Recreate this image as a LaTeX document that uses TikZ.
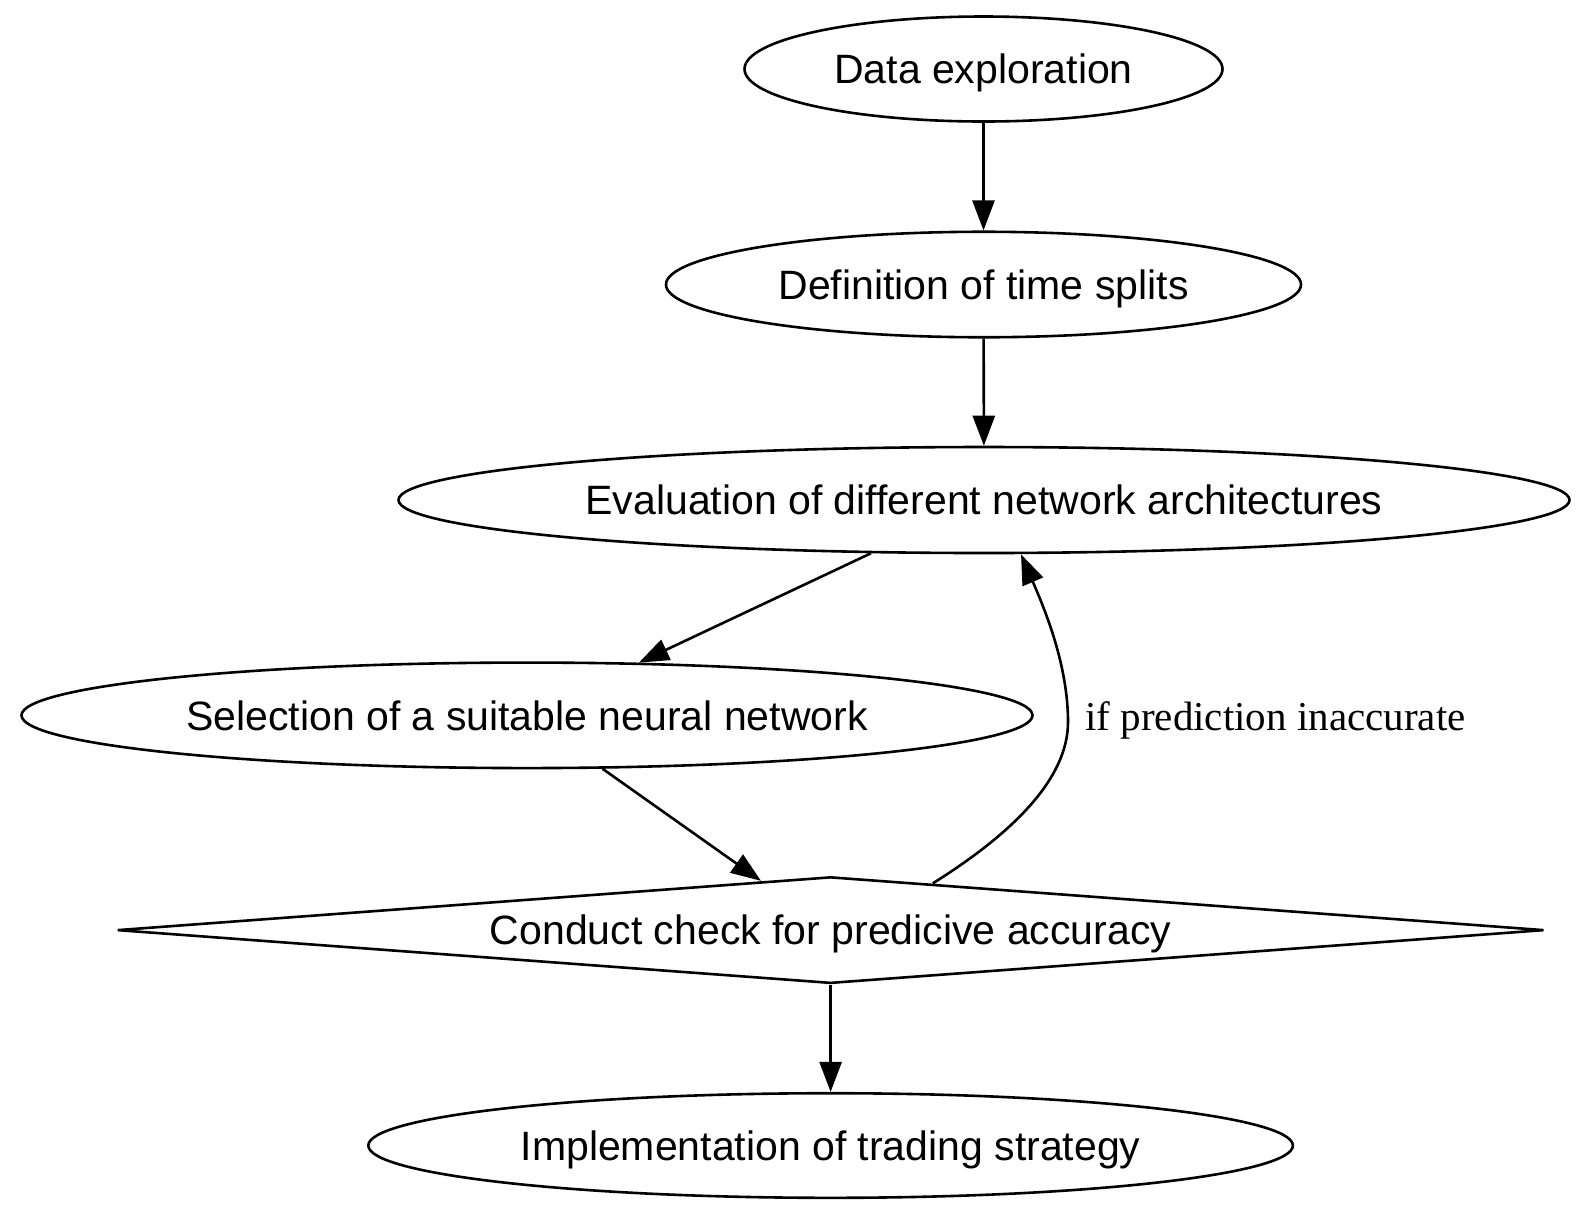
\documentclass[tikz,border=0pt]{standalone}
\usepackage{fontspec}
\setmainfont{Liberation Sans}
\newfontfamily\labelserif{Liberation Serif}
\usetikzlibrary{shapes.geometric,arrows.meta,calc}
\begin{document}
\begin{tikzpicture}[x=0.5pt,y=-0.5pt,
  every node/.style={font=\fontsize{20.5pt}{24pt}\selectfont, inner sep=0pt, text height=18pt, text depth=3.3pt},
  ell/.style={draw, ellipse, line width=1.3pt},
  dia/.style={draw, diamond, shape aspect=13.4, line width=1.3pt},
  conn/.style={line width=1.3pt, -{Triangle[length=15pt,width=11pt]}}]
\useasboundingbox (0,0) rectangle (1593,1223);
\node[ell, minimum width=239pt, minimum height=52.5pt] (explore) at (983.5,69) {Data exploration};
\node[ell, minimum width=317.5pt, minimum height=52.75pt] (splits) at (983.5,284.5) {Definition of time splits};
\node[ell, minimum width=585.5pt, minimum height=53pt] (eval) at (984,500) {Evaluation of different network architectures};
\node[ell, minimum width=505.5pt, minimum height=52.75pt] (select) at (527,715.3) {Selection of a suitable neural network};
\node[dia, minimum width=713.5pt, minimum height=53.3pt] (check) at (830.6,930.1) {Conduct check for predicive accuracy};
\node[ell, minimum width=462.3pt, minimum height=52.3pt] (impl) at (830.6,1145.5) {Implementation of trading strategy};
\draw[conn] (explore) -- (splits);
\draw[conn] (splits) -- (eval);
\draw[conn] (eval) -- (select);
\draw[conn] (select) -- (check);
\draw[conn] (check) -- (impl);
\coordinate (loopstart) at ($(check.north)!0.143!(check.east)$);
\coordinate (loopend) at ($(eval.south)+(37,0)$);
\draw[conn] (loopstart) .. controls (1010,835) and (1068,780) .. (1068,722)
  .. controls (1068,665) and (1045,610) .. (loopend);
\node[anchor=west, font=\labelserif\fontsize{20.5pt}{24pt}\selectfont] (lbl) at (1085,716) {if prediction inaccurate};
\end{tikzpicture}
\end{document}
